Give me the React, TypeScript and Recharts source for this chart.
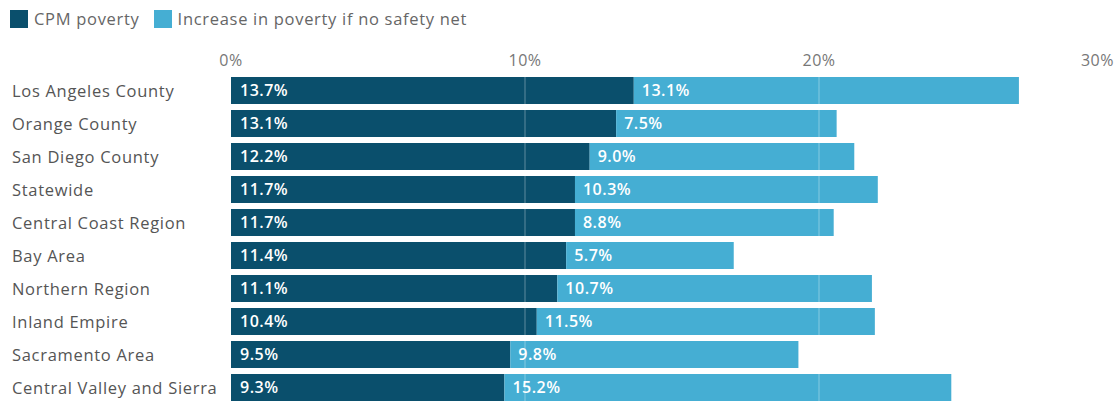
import React from "react";
import {
  Bar,
  BarChart,
  LabelList,
  ReferenceLine,
  XAxis,
  YAxis,
} from "recharts";

const regions = [
  "Los Angeles County",
  "Orange County",
  "San Diego County",
  "Statewide",
  "Central Coast Region",
  "Bay Area",
  "Northern Region",
  "Inland Empire",
  "Sacramento Area",
  "Central Valley and Sierra",
];
const cpmPoverty = [13.7, 13.1, 12.2, 11.7, 11.7, 11.4, 11.1, 10.4, 9.5, 9.3];
const increaseNoNet = [13.1, 7.5, 9.0, 10.3, 8.8, 5.7, 10.7, 11.5, 9.8, 15.2];
const xTicks = [0, 10, 20, 30];
const legendItems = ["CPM poverty", "Increase in poverty if no safety net"];

const DARK = "#0a4f6c";
const LIGHT = "#45aed3";
const FONT = "'Open Sans', sans-serif";

const data = regions.map((name, i) => ({
  name,
  cpm: cpmPoverty[i],
  increase: increaseNoNet[i],
}));

const pct = (v: any) => `${Number(v).toFixed(1)}%`;

function XTick(props: any) {
  const { x, y, payload } = props;
  const last = payload.value === xTicks[xTicks.length - 1];
  return (
    <text
      x={last ? x + 1 : x}
      y={y}
      textAnchor={last ? "end" : "middle"}
      fill="#777"
      fontSize={16}
      letterSpacing={0.5}
      fontFamily={FONT}
    >
      {payload.value}%
    </text>
  );
}

function YTick(props: any) {
  const { y, payload } = props;
  return (
    <text
      x={12}
      y={y}
      dy={6}
      textAnchor="start"
      fill="#555"
      fontSize={16.5}
      letterSpacing={0.7}
      fontFamily={FONT}
    >
      {payload.value}
    </text>
  );
}

function LegendBox() {
  const colors = [DARK, LIGHT];
  return (
    <div
      style={{
        position: "absolute",
        left: 10,
        top: 7,
        display: "flex",
        alignItems: "center",
        fontFamily: FONT,
        fontSize: 16.5,
        letterSpacing: 0.7,
        color: "#666",
        zIndex: 2,
      }}
    >
      {legendItems.map((label, i) => (
        <div
          key={label}
          style={{ display: "flex", alignItems: "center", marginRight: 14 }}
        >
          <span
            style={{
              width: 18,
              height: 18,
              background: colors[i],
              display: "inline-block",
              marginRight: 6,
            }}
          />
          {label}
        </div>
      ))}
    </div>
  );
}

export default function App() {
  return (
    <div style={{ position: "absolute", left: 0, top: 0, width: 1120, height: 405 }}>
      <LegendBox />
      <BarChart
        width={1120}
        height={405}
        data={data}
        layout="vertical"
        margin={{ top: 44, right: 7, bottom: 1, left: 0 }}
        barSize={27}
      >
        <XAxis
          type="number"
          orientation="top"
          domain={[0, 30]}
          ticks={xTicks}
          axisLine={false}
          tickLine={false}
          height={30}
          tick={<XTick />}
          interval={0}
        />
        <YAxis
          type="category"
          dataKey="name"
          width={231}
          axisLine={false}
          tickLine={false}
          tick={<YTick />}
          interval={0}
        />
        <Bar dataKey="cpm" stackId="a" fill={DARK} isAnimationActive={false}>
          <LabelList
            dataKey="cpm"
            position="insideLeft"
            offset={9}
            formatter={pct}
            fill="#fff"
            fontSize={16}
            letterSpacing={0.5}
            fontFamily={FONT}
            fontWeight={600}
          />
        </Bar>
        <Bar
          dataKey="increase"
          stackId="a"
          fill={LIGHT}
          isAnimationActive={false}
        >
          <LabelList
            dataKey="increase"
            position="insideLeft"
            offset={8}
            formatter={pct}
            fill="#fff"
            fontSize={16}
            letterSpacing={0.5}
            fontFamily={FONT}
            fontWeight={600}
          />
        </Bar>
        <ReferenceLine x={10} stroke="#ffffff" strokeOpacity={0.35} />
        <ReferenceLine x={20} stroke="#ffffff" strokeOpacity={0.35} />
      </BarChart>
    </div>
  );
}
